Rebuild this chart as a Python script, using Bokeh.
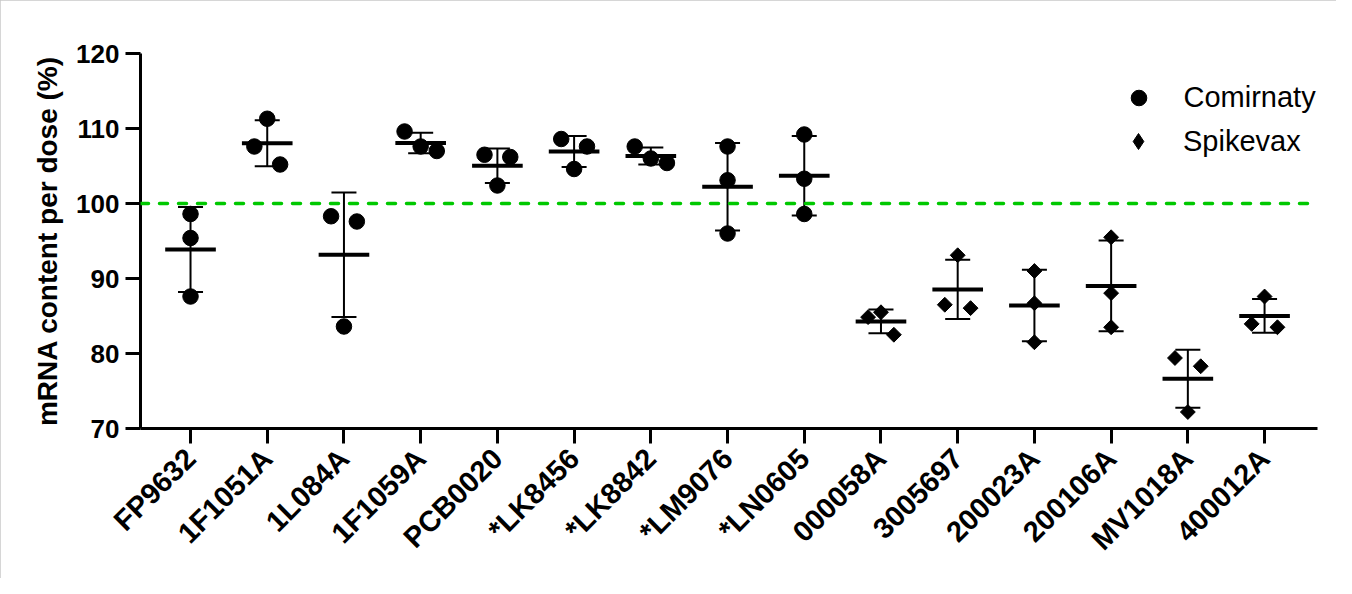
import math
import numpy as np
from bokeh.plotting import figure
from bokeh.models import ColumnDataSource, Range1d, FixedTicker, Span, Legend, LegendItem
from bokeh.embed import file_html
from bokeh.resources import INLINE

# ---------------- data ----------------
lots = ["FP9632", "1F1051A", "1L084A", "1F1059A", "PCB0020", "*LK8456", "*LK8842",
        "*LM9076", "*LN0605", "000058A", "3005697", "200023A", "200106A", "MV1018A", "400012A"]
vaccine = ["Comirnaty"] * 9 + ["Spikevax"] * 6
# three replicate measurements per lot (% of labelled mRNA content per dose)
replicates = [
    [98.6, 95.4, 87.6],
    [111.3, 107.6, 105.2],
    [98.3, 97.6, 83.6],
    [109.6, 107.6, 107.0],
    [106.5, 106.2, 102.4],
    [108.6, 107.6, 104.6],
    [107.6, 106.0, 105.4],
    [107.6, 103.1, 96.0],
    [109.2, 103.3, 98.6],
    [84.85, 85.5, 82.5],
    [93.1, 86.5, 86.05],
    [91.0, 86.7, 81.5],
    [95.5, 88.05, 83.5],
    [79.4, 78.3, 72.2],
    [87.6, 83.95, 83.5],
]
# horizontal scatter of the replicate symbols (-1 left, 0 centre, 1 right)
dodge = [
    [0, 0, 0], [0, -1, 1], [-1, 1, 0], [-1.25, 0, 1.25], [-1, 1, 0],
    [-1, 1, 0], [-1.25, 0, 1.25], [0, 0, 0], [0, 0, 0], [-1, 0, 1],
    [0, -1, 1], [0, 0, 0], [0, 0, 0], [-1, 1, 0], [0, -1, 1],
]
target = 100
y_ticks = [70, 80, 90, 100, 110, 120]

# ---------------- derived ----------------
SPREAD = 0.168
means = [float(np.mean(r)) for r in replicates]
sds = [float(np.std(r, ddof=1)) for r in replicates]
xs = list(range(len(lots)))

pts = {"Comirnaty": dict(x=[], y=[]), "Spikevax": dict(x=[], y=[])}
for i, (r, d, v) in enumerate(zip(replicates, dodge, vaccine)):
    for val, dd in zip(r, d):
        pts[v]["x"].append(i + dd * SPREAD)
        pts[v]["y"].append(val)

MEAN_HW = 0.33
CAP_HW = 0.163
stats = ColumnDataSource(dict(
    x=xs,
    mx0=[x - MEAN_HW for x in xs], mx1=[x + MEAN_HW for x in xs],
    cx0=[x - CAP_HW for x in xs], cx1=[x + CAP_HW for x in xs],
    mean=means,
    lo=[m - s for m, s in zip(means, sds)],
    hi=[m + s for m, s in zip(means, sds)],
))

# ---------------- figure ----------------
W, H = 1336, 578
p = figure(width=W, height=H, output_backend="svg", toolbar_location=None,
           x_range=Range1d(-0.652, 14.69), y_range=Range1d(70, 120),
           min_border_left=140, min_border_right=19, min_border_top=53, min_border_bottom=150)
p.styles = {"outline": "3px solid #c8c8c8", "outline-offset": "-3px"}
p.grid.visible = False
p.outline_line_color = None
p.background_fill_color = "white"
p.border_fill_color = "white"

FONT = "Liberation Sans"

# target line
p.add_layout(Span(location=target, dimension="width", line_color="#00c800",
                  line_width=3.5, line_dash="8 11", line_cap="round"))

src_c = ColumnDataSource(pts["Comirnaty"])
src_s = ColumnDataSource(pts["Spikevax"])
r_c = p.scatter(x="x", y="y", source=src_c, marker="circle",
                size=15.5, fill_color="black", line_color="black")
r_s = p.scatter(x="x", y="y", source=src_s, marker="square",
                angle=math.pi / 4, size=10.5, fill_color="black", line_color="black")
# legend key for Spikevax (legend glyphs ignore the marker angle); hidden in the plot
r_s_key = p.scatter(x="x", y="y", source=src_s, marker="diamond",
                    fill_color="black", line_color="black", visible=False)

# error bars (SD) and means
p.segment(x0="x", y0="lo", x1="x", y1="hi", source=stats, line_color="black", line_width=2)
p.segment(x0="cx0", y0="hi", x1="cx1", y1="hi", source=stats, line_color="black", line_width=2)
p.segment(x0="cx0", y0="lo", x1="cx1", y1="lo", source=stats, line_color="black", line_width=2)
p.segment(x0="mx0", y0="mean", x1="mx1", y1="mean", source=stats, line_color="black", line_width=4)

# axes
for ax in (p.xaxis[0], p.yaxis[0]):
    ax.axis_line_width = 3
    ax.axis_line_color = "black"
    ax.major_tick_line_width = 3
    ax.major_tick_line_color = "black"
    ax.major_tick_out = 15
    ax.major_tick_in = 0
    ax.minor_tick_line_color = None
    ax.major_label_text_font = FONT
    ax.major_label_text_font_style = "bold"
    ax.major_label_text_color = "black"

p.yaxis.major_label_text_font_size = "26px"
p.xaxis.major_label_text_font_size = "29px"
p.xaxis.ticker = FixedTicker(ticks=xs)
p.xaxis.major_label_overrides = {i: name for i, name in enumerate(lots)}
p.xaxis.major_label_orientation = math.pi / 4
p.xaxis.major_label_standoff = 10

p.yaxis.ticker = FixedTicker(ticks=y_ticks)
p.yaxis.major_label_standoff = 6
p.yaxis.axis_label = "mRNA content per dose (%)"
p.yaxis.axis_label_text_font = FONT
p.yaxis.axis_label_text_font_style = "bold"
p.yaxis.axis_label_text_font_size = "28px"
p.yaxis.axis_label_text_color = "black"
p.yaxis.axis_label_standoff = 10

# legends (one per entry so each symbol keeps its own size)
def make_legend(label, rend, box, standoff, loc):
    lg = Legend(items=[LegendItem(label=label, renderers=[rend])], location=loc,
                glyph_width=box, glyph_height=box, label_height=box, label_standoff=standoff,
                padding=0, margin=0, spacing=0, border_line_color=None,
                background_fill_alpha=0, label_text_font=FONT, label_text_font_size="29px",
                label_text_color="black")
    p.add_layout(lg)

make_legend("Comirnaty", r_c, 39, 26, (978.5, 311))
make_legend("Spikevax", r_s_key, 40, 25, (978, 267))

open("out.html", "w").write(file_html(p, INLINE))
